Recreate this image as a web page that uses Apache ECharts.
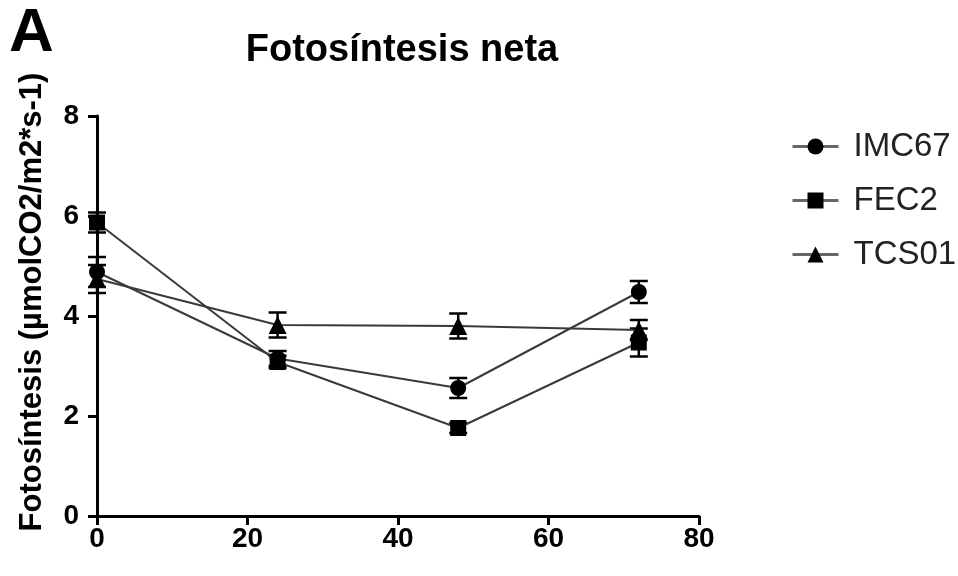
<!DOCTYPE html>
<html><head><meta charset="utf-8">
<script src="https://cdn.jsdelivr.net/npm/echarts@6/dist/echarts.min.js"></script>
<style>html,body{margin:0;padding:0;background:#fff}#c{width:958px;height:576px}</style>
</head><body><div id="c"></div>
<script>
const hours = [0, 24, 48, 72];
const xTicks = [0, 20, 40, 60, 80];
const yTicks = [0, 2, 4, 6, 8];
const seriesNames = ['IMC67', 'FEC2', 'TCS01'];
const imc67Mean = [4.88, 3.15, 2.56, 4.48];
const imc67Err = [0.3, 0.15, 0.2, 0.22];
const fec2Mean = [5.87, 3.08, 1.76, 3.47];
const fec2Err = [0.2, 0.12, 0.1, 0.28];
const tcs01Mean = [4.74, 3.82, 3.8, 3.72];
const tcs01Err = [0.28, 0.25, 0.25, 0.2];
const symbols = ['circle', 'rect', 'triangle'];
const means = [imc67Mean, fec2Mean, tcs01Mean];
const errs = [imc67Err, fec2Err, tcs01Err];

const chart = echarts.init(document.getElementById('c'));
const FONT = '"Liberation Sans", Arial, sans-serif';
const series = [];
seriesNames.forEach((name, i) => {
  series.push({
    name: name, type: 'line', data: hours.map((h, j) => [h, means[i][j]]),
    symbol: symbols[i], symbolSize: i === 2 ? 18 : 16,
    itemStyle: {color: '#000'}, lineStyle: {color: '#3a3a3a', width: 2},
    z: 5
  });
  series.push({
    type: 'custom', name: name + '_err', silent: true, z: 4,
    data: hours.map((h, j) => [h, means[i][j] - errs[i][j], means[i][j] + errs[i][j]]),
    renderItem: function (params, api) {
      const lo = api.coord([api.value(0), api.value(1)]);
      const hi = api.coord([api.value(0), api.value(2)]);
      const w = 9;
      const st = {stroke: '#000', lineWidth: 2.5};
      return {type: 'group', children: [
        {type: 'line', shape: {x1: lo[0], y1: lo[1], x2: hi[0], y2: hi[1]}, style: st},
        {type: 'line', shape: {x1: lo[0] - w, y1: lo[1], x2: lo[0] + w, y2: lo[1]}, style: st},
        {type: 'line', shape: {x1: hi[0] - w, y1: hi[1], x2: hi[0] + w, y2: hi[1]}, style: st}
      ]};
    }
  });
});

chart.setOption({
  animation: false,
  backgroundColor: '#fff',
  title: {text: 'Fotosíntesis neta', left: 397, top: 27, textAlign: 'center',
    textStyle: {fontFamily: FONT, fontSize: 38, fontWeight: 'bold', color: '#000'}},
  graphic: [
    {type: 'text', left: 9, top: 3,
      style: {text: 'A', fontFamily: FONT, fontSize: 62, fontWeight: 'bold', fill: '#000'}},
    {type: 'text', x: 32, y: 302, rotation: Math.PI / 2,
      style: {text: 'Fotosíntesis (µmolCO2/m2*s-1)', fontFamily: FONT, fontSize: 31, fontWeight: 'bold',
        fill: '#000', align: 'center', verticalAlign: 'middle'}}
  ],
  legend: {data: seriesNames, orient: 'vertical', left: 786, top: 125, itemGap: 21,
    itemWidth: 46, itemHeight: 20,
    lineStyle: {color: '#666', width: 3},
    textStyle: {fontFamily: FONT, fontSize: 33, color: '#222', padding: [0, 0, 0, 10]}},
  grid: {left: 97, right: 259, top: 116, bottom: 60, containLabel: false},
  xAxis: {type: 'value', min: xTicks[0], max: xTicks[xTicks.length - 1], interval: 20,
    axisLine: {lineStyle: {color: '#000', width: 3}},
    axisTick: {show: true, length: 9, lineStyle: {color: '#000', width: 3}},
    axisLabel: {fontFamily: FONT, fontSize: 28, fontWeight: 'bold', color: '#000', margin: 9},
    splitLine: {show: false}},
  yAxis: {type: 'value', min: yTicks[0], max: yTicks[yTicks.length - 1], interval: 2,
    axisLine: {show: true, lineStyle: {color: '#000', width: 3}},
    axisTick: {show: true, length: 9, lineStyle: {color: '#000', width: 3}},
    axisLabel: {fontFamily: FONT, fontSize: 28, fontWeight: 'bold', color: '#000', margin: 18},
    splitLine: {show: false}},
  series: series
});
</script></body></html>
